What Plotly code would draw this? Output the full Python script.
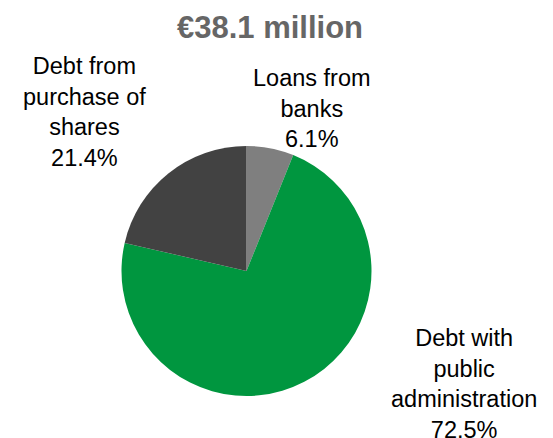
import plotly.graph_objects as go

categories = ["Loans from banks", "Debt with public administration", "Debt from purchase of shares"]
label_lines = ["Loans from<br>banks", "Debt with<br>public<br>administration", "Debt from<br>purchase of<br>shares"]
values = [6.1, 72.5, 21.4]
colors = ["#7f7f7f", "#00963f", "#424242"]
title_text = "€38.1 million"

# page has an 8px body margin; lay out in page pixels and shift
OFF = 8
W, H = 553 - OFF, 438 - OFF
cx, cy, r = 246.5 - OFF, 271 - OFF, 125

def px2x(p):
    return (p - OFF) / W

def py2y(p):
    return 1 - (p - OFF) / H

fig = go.Figure(go.Pie(
    labels=categories,
    values=values,
    sort=False,
    direction="clockwise",
    rotation=0,
    marker=dict(colors=colors, line=dict(width=0)),
    textinfo="none",
    hoverinfo="label+percent",
    showlegend=False,
    domain=dict(x=[(cx - r) / W, (cx + r) / W], y=[1 - (cy + r) / H, 1 - (cy - r) / H]),
))

label_pos = [(312, 108.5), (464, 384), (84.5, 112)]
for txt, v, (px, py) in zip(label_lines, values, label_pos):
    fig.add_annotation(
        text=f"{txt}<br>{v:.1f}%",
        x=px2x(px), y=py2y(py), xref="paper", yref="paper",
        xanchor="center", yanchor="middle", align="center",
        showarrow=False,
        font=dict(family="Liberation Sans, Arial", size=23.5, color="#000000"),
    )

fig.update_layout(
    width=W, height=H,
    margin=dict(l=0, r=0, t=0, b=0),
    paper_bgcolor="white", plot_bgcolor="white",
    title=dict(text=f"<b>{title_text}</b>", x=px2x(270), y=py2y(27.5),
               xanchor="center", yanchor="middle",
               font=dict(family="Liberation Sans, Arial", size=31, color="#666666")),
)

fig.write_html("out.html")
